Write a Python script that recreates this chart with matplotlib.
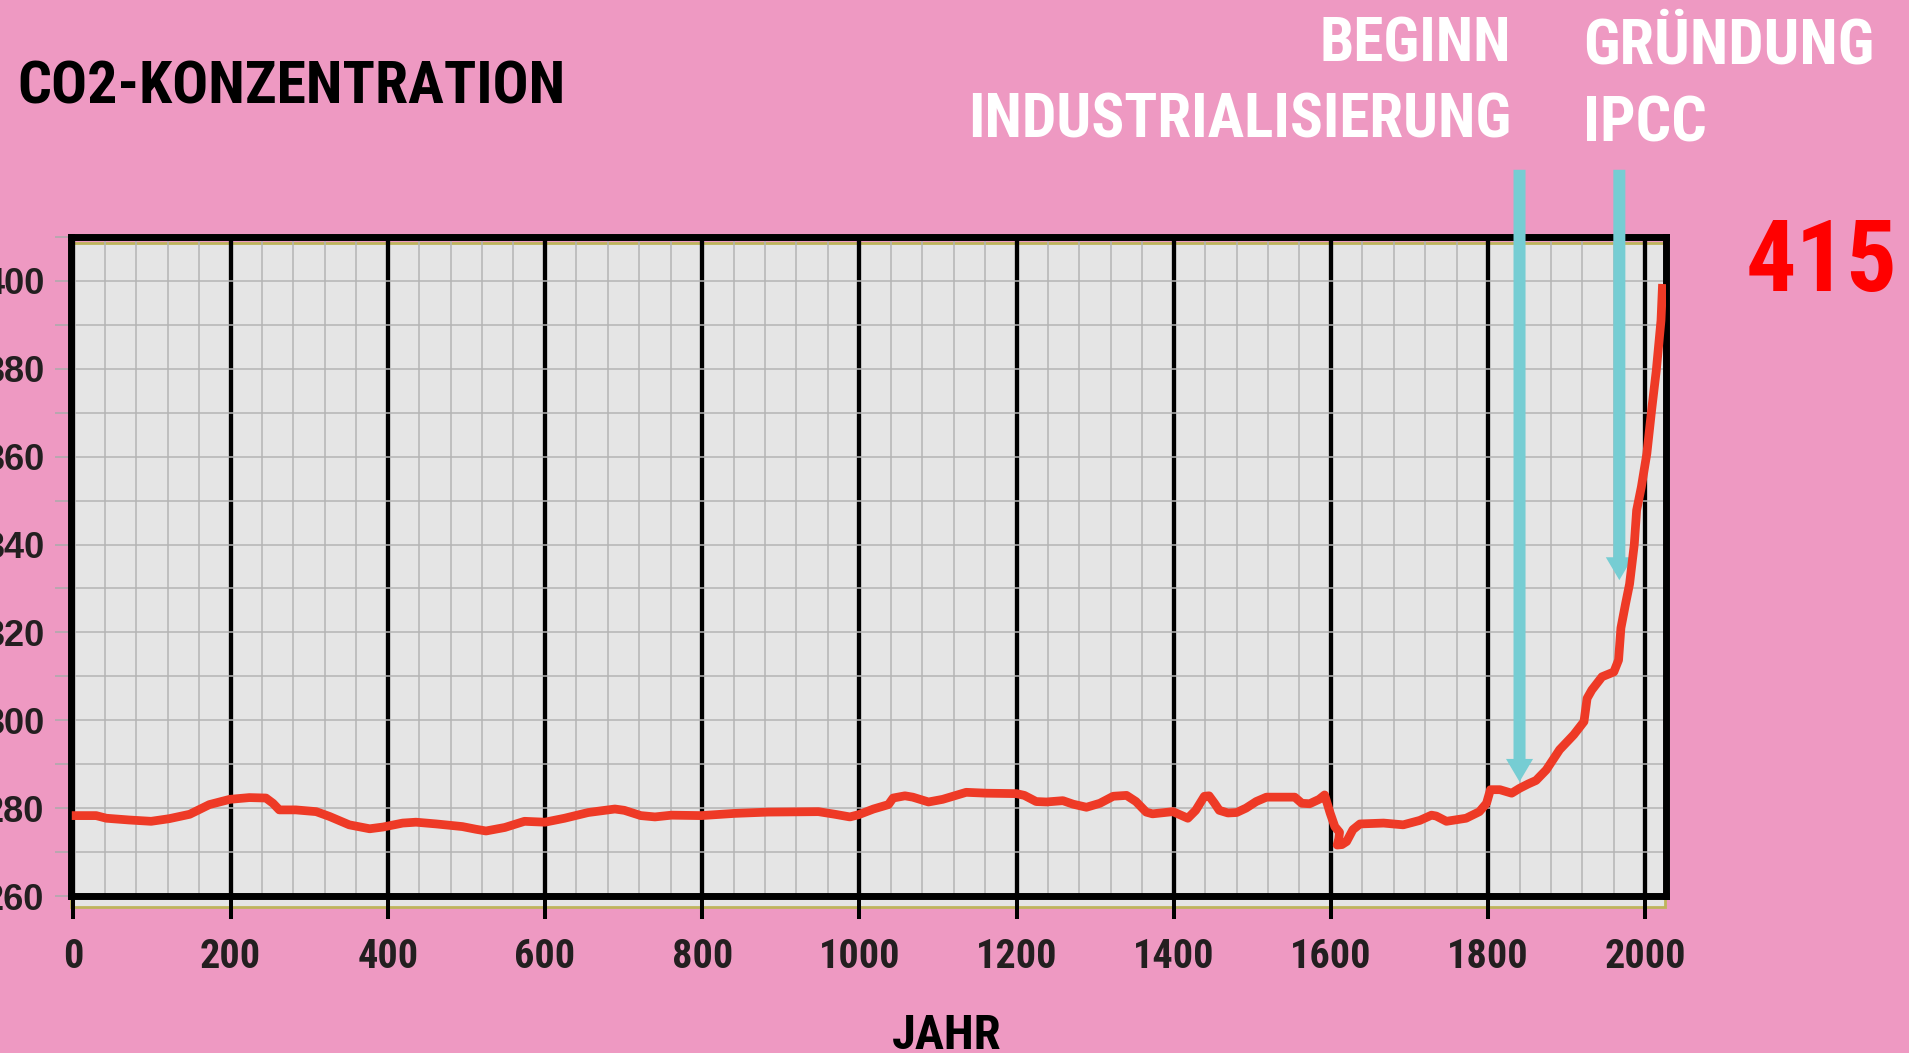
import os
import matplotlib
matplotlib.use("Agg")
import matplotlib.pyplot as plt
from matplotlib import font_manager as fm
from matplotlib.patches import Rectangle, FancyArrow
from matplotlib.ticker import MultipleLocator

# CO2-Verlauf (Jahr, ppm)
years = [-2, 29, 42, 71, 99, 122, 148, 173, 199, 224, 245, 254, 262, 283, 309, 326,
         351, 377, 394, 419, 436, 462, 495, 512, 525, 549, 574, 600, 625, 655, 689,
         701, 722, 740, 761, 799, 841, 884, 948, 969, 988, 999, 1018, 1037, 1043,
         1058, 1068, 1088, 1106, 1136, 1162, 1200, 1210, 1225, 1238, 1259, 1272,
         1289, 1306, 1323, 1340, 1352, 1365, 1373, 1399, 1418, 1428, 1439, 1445,
         1452, 1458, 1469, 1480, 1492, 1505, 1518, 1554, 1563, 1573, 1585, 1592,
         1599, 1605, 1611, 1610, 1608, 1614, 1620, 1628, 1637, 1667, 1692, 1713,
         1728, 1734, 1747, 1772, 1789, 1798, 1803, 1815, 1830, 1840, 1851, 1861,
         1874, 1891, 1909, 1922, 1926, 1932, 1945, 1960, 1966, 1969, 1975, 1980,
         1986, 1989, 1995, 2002, 2008, 2014, 2018, 2020, 2022]
co2 = [278.3, 278.3, 277.7, 277.3, 277.0, 277.6, 278.6, 280.8, 282.0, 282.4, 282.3,
       281.1, 279.6, 279.6, 279.2, 278.1, 276.2, 275.3, 275.7, 276.6, 276.8, 276.4,
       275.8, 275.2, 274.8, 275.6, 277.0, 276.8, 277.7, 279.0, 279.8, 279.5, 278.3,
       278.0, 278.4, 278.3, 278.8, 279.1, 279.2, 278.6, 278.0, 278.5, 279.8, 280.8,
       282.3, 282.8, 282.5, 281.4, 282.0, 283.6, 283.4, 283.3, 282.9, 281.5, 281.4,
       281.7, 280.9, 280.2, 281.1, 282.7, 282.9, 281.5, 279.1, 278.7, 279.2, 277.7,
       279.5, 282.7, 282.8, 281.1, 279.5, 278.9, 279.0, 280.0, 281.5, 282.5, 282.5,
       281.1, 281.0, 282.0, 283.0, 278.9, 275.8, 274.5, 273.0, 271.6, 271.7, 272.4,
       275.1, 276.4, 276.6, 276.2, 277.2, 278.4, 278.2, 277.0, 277.7, 279.2, 281.1,
       284.2, 284.2, 283.4, 284.5, 285.5, 286.3, 288.7, 293.3, 296.7, 299.7, 305.0,
       306.9, 309.9, 311.0, 313.7, 321.0, 326.6, 331.0, 340.0, 347.8, 353.1, 360.7,
       370.5, 379.6, 387.2, 391.0, 399.3]

x_ticks = list(range(0, 2001, 200))
y_ticks = list(range(260, 401, 20))

arrow_x = [1840, 1967]
arrow_tip = [286.0, 331.9]
arrow_start = 425.3

PINK = "#ee99c2"
CYAN = "#76cdd3"
RED_LINE = "#ee3a26"
TXT = "#231f20"


def find_font(names, fallback):
    for n in names:
        for f in fm.fontManager.ttflist:
            b = os.path.basename(f.fname).lower()
            if b.startswith(n.lower()) and "italic" not in b:
                return fm.FontProperties(fname=f.fname)
    return fm.FontProperties(family=fallback, weight="bold")


heavy = find_font(["NotoSans-CondensedBlack", "NotoSans-CondensedExtraBold",
                   "RobotoCondensed-Black", "RobotoCondensed-ExtraBold",
                   "RobotoCondensed-Bold", "OpenSans-CondBold",
                   "OpenSans_Condensed-Bold", "NotoSans-CondensedBold",
                   "LiberationSansNarrow-Bold", "DejaVuSansCondensed-Bold"],
                  "DejaVu Sans")
cond = find_font(["NotoSans-CondensedBold", "RobotoCondensed-Bold",
                  "OpenSans-CondBold", "LiberationSansNarrow-Bold",
                  "DejaVuSansCondensed-Bold"], "DejaVu Sans")
ybold = find_font(["LiberationSans-Bold"], "DejaVu Sans")


def fp(base, size):
    p = base.copy()
    p.set_size(size)
    return p


W, H = 1909, 1053
fig = plt.figure(figsize=(W / 100, H / 100), dpi=100, facecolor=PINK)
ax = fig.add_axes([71 / W, 1 - 896 / H, 1595.5 / W, 659 / H])
ax.patch.set_visible(False)

# graue Flaeche mit Olivrand (leicht versetzt)
ax.add_patch(Rectangle((0.0, -0.017), 0.999, 1.008, transform=ax.transAxes,
                       facecolor="#e5e5e5", edgecolor="#beb45c", lw=2,
                       clip_on=False, zorder=0.1))

ax.set_xlim(-3, 2027)
ax.set_ylim(260, 410)
ax.xaxis.set_major_locator(MultipleLocator(200))
ax.xaxis.set_minor_locator(MultipleLocator(40))
ax.yaxis.set_major_locator(MultipleLocator(20))
ax.yaxis.set_minor_locator(MultipleLocator(10))
ax.set_axisbelow(True)
ax.grid(which="minor", color="#b4b4b4", lw=1.1)
ax.grid(which="major", axis="y", color="#b4b4b4", lw=1.1)
ax.grid(which="major", axis="x", color="black", lw=3.1)

ax.set_xticks(x_ticks)
ax.set_xticklabels([str(t) for t in x_ticks])
ax.set_yticks(y_ticks)
ax.set_yticklabels([str(t) for t in y_ticks])
ax.tick_params(axis="x", which="major", length=16.5, width=2.9, color="black",
               pad=14, labelcolor=TXT)
ax.tick_params(axis="x", which="minor", length=0)
ax.tick_params(axis="y", which="both", length=11.5, width=1.1, color="#aaaaaa",
               pad=7.5, labelcolor=TXT)
for lab in ax.get_xticklabels():
    lab.set_fontproperties(fp(cond, 29))
for lab in ax.get_yticklabels():
    lab.set_fontproperties(fp(ybold, 26))

for s in ax.spines.values():
    s.set_linewidth(5)
    s.set_color("black")
    s.set_zorder(2.6)

# Pfeile
for xa, tip in zip(arrow_x, arrow_tip):
    ax.add_patch(FancyArrow(xa, arrow_start, 0, tip - arrow_start, width=15.3,
                            head_width=34.4, head_length=5.2,
                            length_includes_head=True, color=CYAN, lw=0,
                            clip_on=False, zorder=3))

ax.plot(years, co2, color=RED_LINE, lw=6.3, solid_joinstyle="round",
        solid_capstyle="butt", zorder=4)

fig.text(17 / W, 1 - 103 / H, "CO2-KONZENTRATION", fontproperties=fp(heavy, 43),
         color="black", ha="left", va="baseline")
fig.text(1511 / W, 1 - 62 / H, "BEGINN", fontproperties=fp(heavy, 44),
         color="white", ha="right", va="baseline")
fig.text(1511 / W, 1 - 138 / H, "INDUSTRIALISIERUNG", fontproperties=fp(heavy, 44),
         color="white", ha="right", va="baseline")
fig.text(1583 / W, 1 - 64 / H, "GRÜNDUNG", fontproperties=fp(heavy, 45),
         color="white", ha="left", va="baseline")
fig.text(1583 / W, 1 - 141 / H, "IPCC", fontproperties=fp(heavy, 45),
         color="white", ha="left", va="baseline")
fig.text(1822 / W, 1 - 291 / H, "415", fontproperties=fp(heavy, 72),
         color="#ff0000", ha="center", va="baseline")
fig.text(947 / W, 1 - 1049 / H, "JAHR", fontproperties=fp(heavy, 35),
         color="black", ha="center", va="baseline")

fig.savefig("out.png", dpi=100, facecolor=PINK)
